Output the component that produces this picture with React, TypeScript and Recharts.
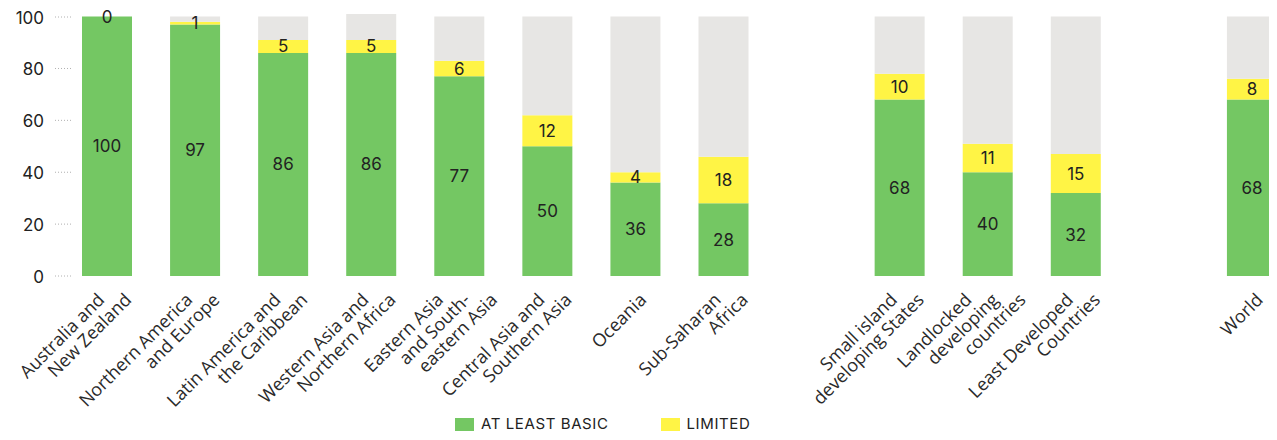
import React from 'react';
import { BarChart, Bar, XAxis, YAxis, LabelList, Legend } from 'recharts';

const categories = [
  'Australia and\nNew Zealand',
  'Northern America\nand Europe',
  'Latin America and\nthe Caribbean',
  'Western Asia and\nNorthern Africa',
  'Eastern Asia\nand South-\neastern Asia',
  'Central Asia and\nSouthern Asia',
  'Oceania',
  'Sub-Saharan\nAfrica',
  ' ',
  'Small island\ndeveloping States',
  'Landlocked\ndeveloping\ncountries',
  'Least Developed\nCountries',
  '  ',
  'World',
];
const atLeastBasic = [100, 97, 86, 86, 77, 50, 36, 28, null, 68, 40, 32, null, 68];
const limited = [0, 1, 5, 5, 6, 12, 4, 18, null, 10, 11, 15, null, 8];
const remainder = [0, 2, 9, 10, 17, 38, 60, 54, null, 22, 49, 53, null, 24];
const yTicks = [0, 20, 40, 60, 80, 100];

const GREEN = '#74C763';
const YELLOW = '#FFF445';
const GREY = '#E7E6E4';
const TEXT = '#222222';
const NUM_FONT = 'Inter, "Liberation Sans", sans-serif';
const LABEL_FONT = '"Open Sans", "Noto Sans", sans-serif';

const data = categories.map((c, i) => ({
  label: c,
  basic: atLeastBasic[i],
  limited: limited[i],
  rest: remainder[i],
}));

const YTick = (props: any) => {
  const { x, y, payload } = props;
  return (
    <g>
      <line x1={x - 8} x2={x + 10} y1={y} y2={y} stroke="#b0b0b0" strokeDasharray="1 2" />
      <text x={x - 19} y={y} dy={7} textAnchor="end" fontFamily={NUM_FONT} fontSize={17} fill={TEXT}>
        {payload.value}
      </text>
    </g>
  );
};

const XTick = (props: any) => {
  const { x, y, payload } = props;
  const lines = String(payload.value).trim() === '' ? [] : String(payload.value).split('\n');
  const n = lines.length;
  return (
    <g>
      {lines.map((ln, i) => {
        const ax = x + 12 + 27 * (i - (n - 1) / 2);
        const ay = y + 25;
        return (
          <text
            key={i}
            x={ax}
            y={ay}
            transform={`rotate(-45 ${ax} ${ay})`}
            textAnchor="end"
            fontFamily={LABEL_FONT}
            fontSize={18}
            fill="#2a2a2a"
          >
            {ln}
          </text>
        );
      })}
    </g>
  );
};

const LegendContent = (props: any) => {
  const items = (props.payload || []).filter((p: any) => p.type !== 'none');
  return (
    <div
      style={{
        display: 'flex',
        alignItems: 'center',
        height: 20,
        paddingLeft: 447,
        fontFamily: NUM_FONT,
        fontSize: 15,
        lineHeight: '20px',
        letterSpacing: 0.6,
        color: TEXT,
      }}
    >
      {items.map((it: any) => (
        <div key={it.value} style={{ display: 'flex', alignItems: 'center', marginRight: 52, height: 20 }}>
          <span style={{ display: 'inline-block', width: 19, height: 13, background: it.color, marginRight: 7 }} />
          <span>{it.value}</span>
        </div>
      ))}
    </div>
  );
};

const yellowMin = (_v: any, i: number) => (limited[i] === 0 ? 0.15 : 0);

export default function App() {
  return (
    <div style={{ width: 1269, height: 424, overflowX: 'clip', overflowY: 'visible' } as any}>
      <BarChart
        width={1288}
        height={432}
        data={data}
        margin={{ top: 6, right: 0, bottom: 0, left: 0 }}
        barSize={50}
      >
        <XAxis
          dataKey="label"
          interval={0}
          axisLine={false}
          tickLine={false}
          tickSize={0}
          tickMargin={0}
          height={144}
          tick={<XTick />}
        />
        <YAxis
          type="number"
          domain={[0, 101]}
          ticks={yTicks}
          width={55}
          axisLine={false}
          tickLine={false}
          tickSize={0}
          tickMargin={0}
          tick={<YTick />}
        />
        <Legend
          verticalAlign="bottom"
          height={20}
          wrapperStyle={{ top: 406, bottom: 'auto', left: 0 }}
          content={<LegendContent />}
        />
        <Bar dataKey="basic" name="AT LEAST BASIC" stackId="a" fill={GREEN} isAnimationActive={false}>
          <LabelList dataKey="basic" position="center" fill={TEXT} fontSize={17} fontFamily={NUM_FONT} />
        </Bar>
        <Bar
          dataKey="limited"
          name="LIMITED"
          stackId="a"
          fill={YELLOW}
          minPointSize={yellowMin}
          isAnimationActive={false}
        >
          <LabelList dataKey="limited" position="center" fill={TEXT} fontSize={17} fontFamily={NUM_FONT} />
        </Bar>
        <Bar dataKey="rest" name="rest" stackId="a" fill={GREY} legendType="none" isAnimationActive={false} />
      </BarChart>
    </div>
  );
}
